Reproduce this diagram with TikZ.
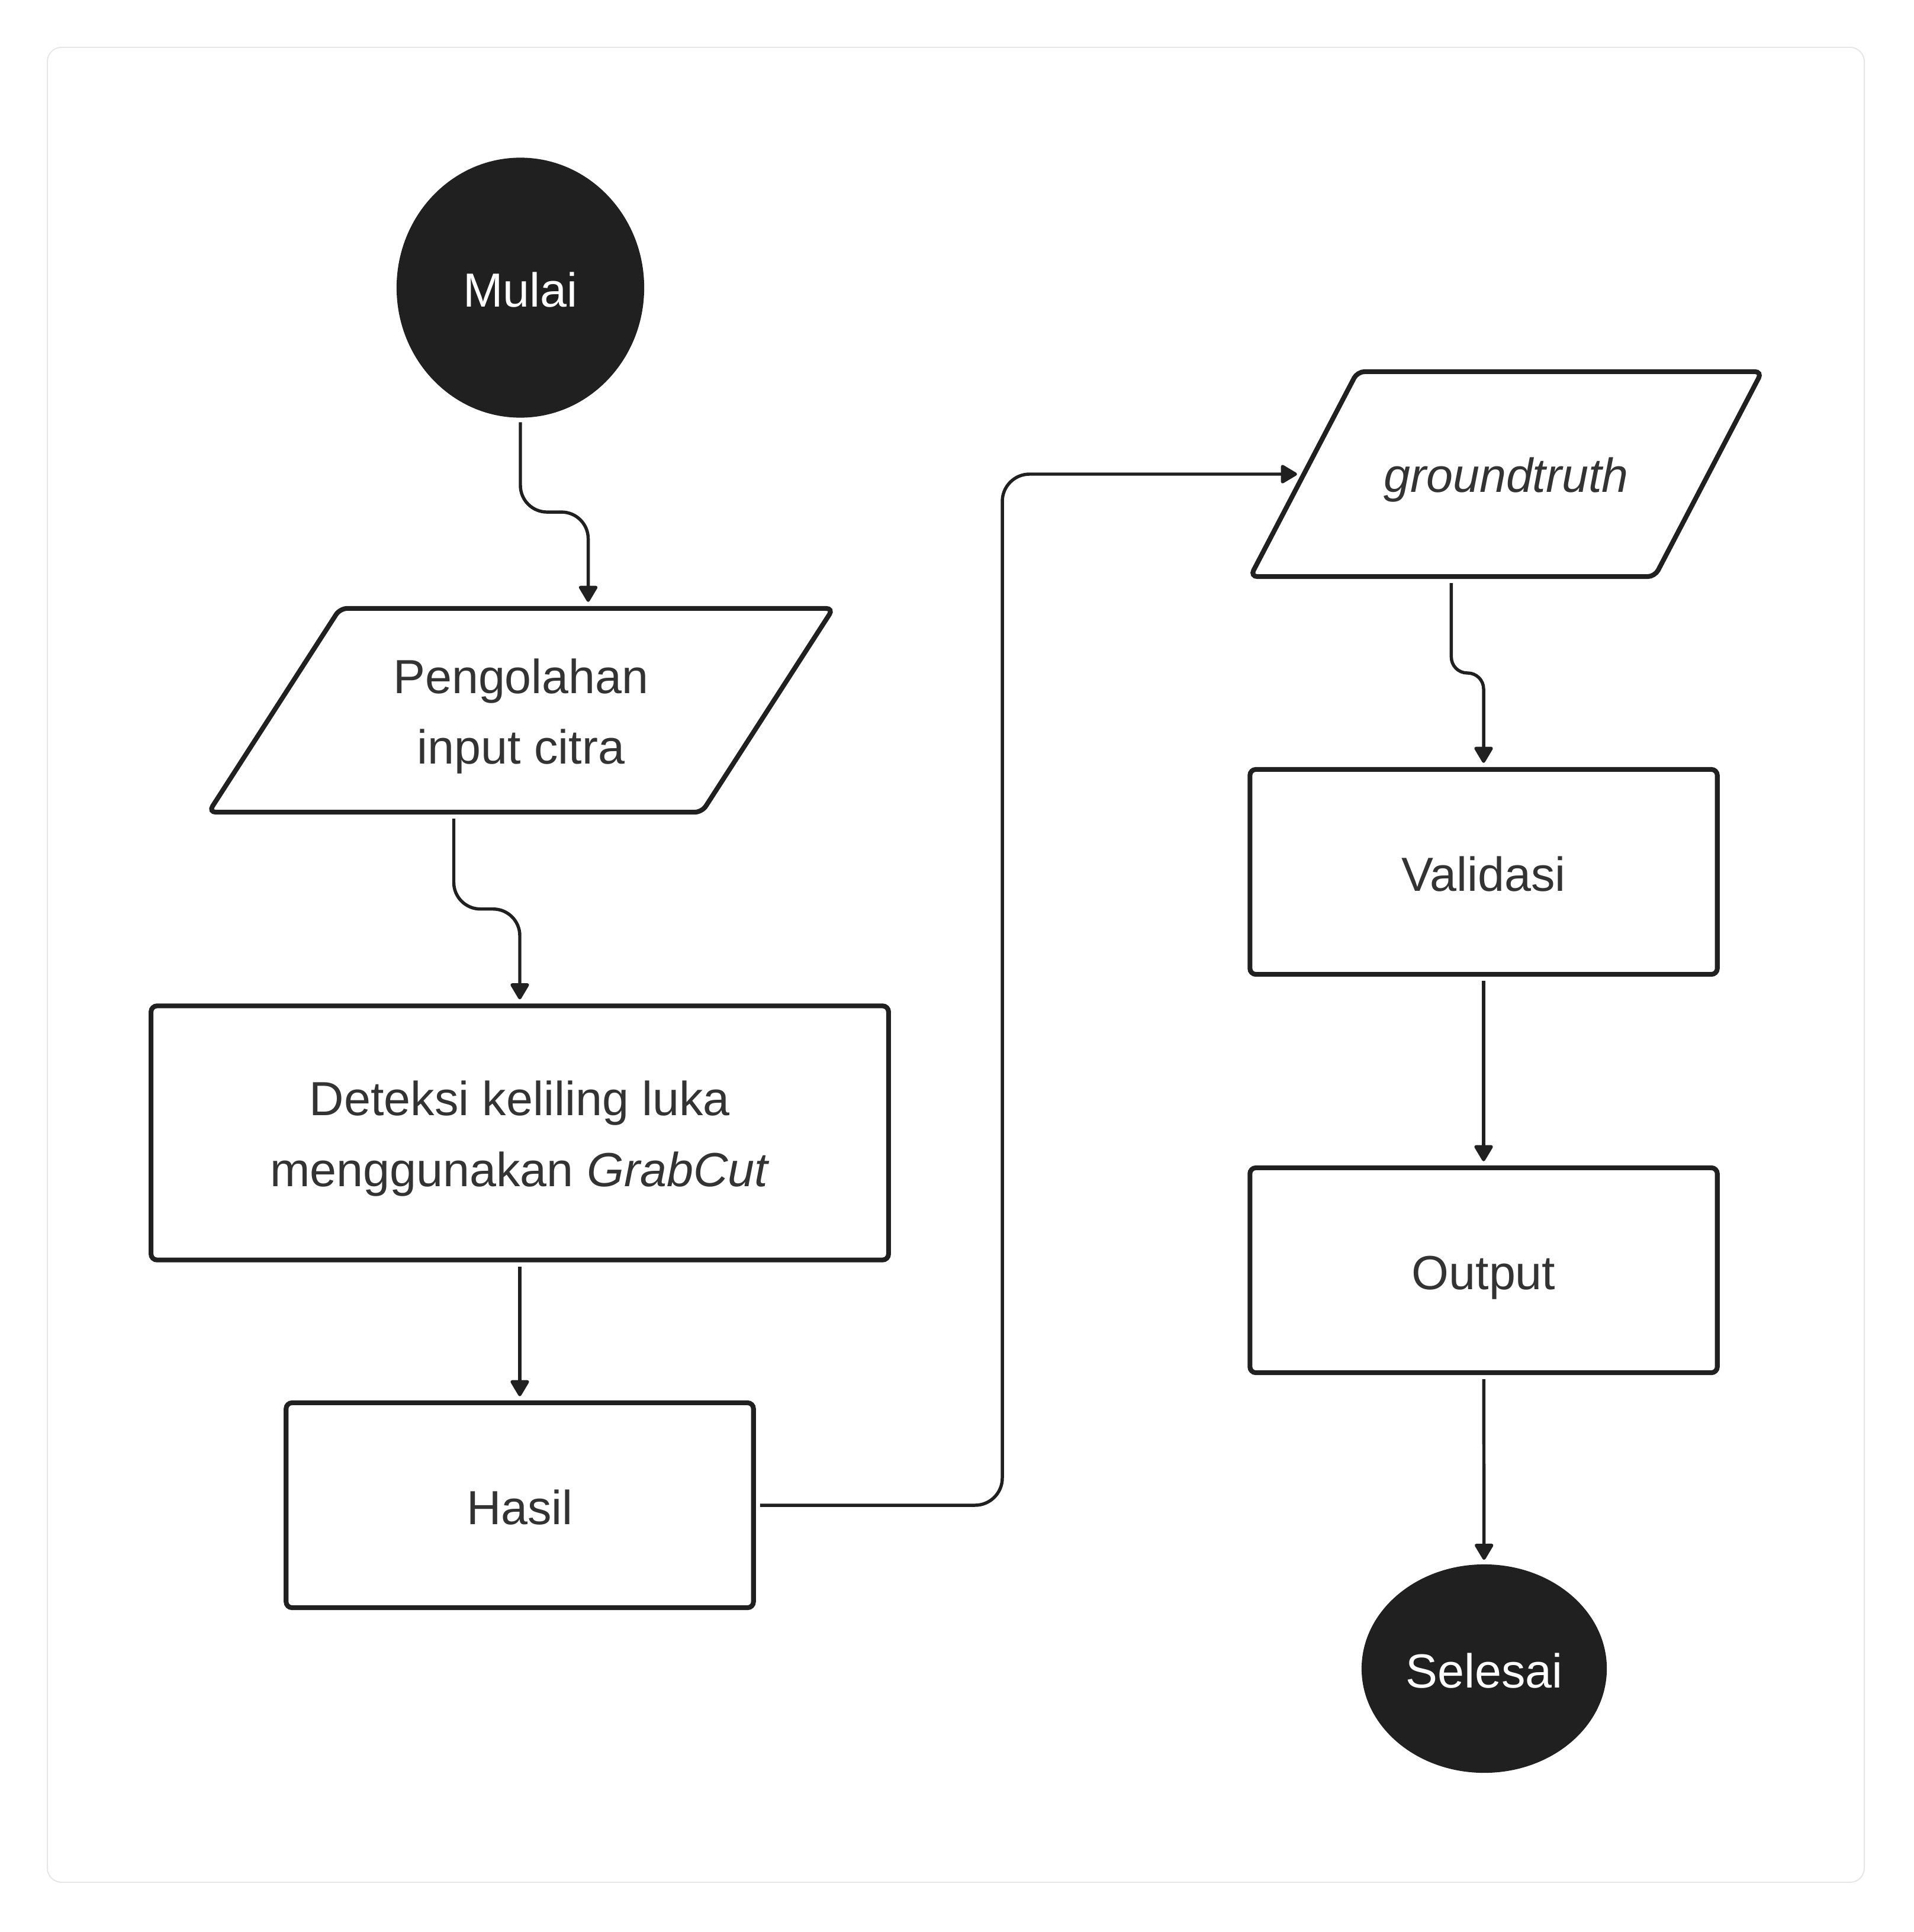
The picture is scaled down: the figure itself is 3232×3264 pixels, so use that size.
\documentclass[tikz,border=0pt]{standalone}
\usepackage{fontspec}
\setmainfont{Liberation Sans}
\usetikzlibrary{shapes.geometric,arrows.meta,calc}

\definecolor{ink}{HTML}{202020}
\definecolor{teks}{HTML}{333333}
\definecolor{bingkai}{HTML}{E6E6E6}

\tikzset{
    huruf/.style={font=\fontsize{23}{34}\selectfont},
    satubaris/.style={text height=0.66cm, text depth=0.02cm},
    proses/.style={draw=ink, line width=2.3pt, rounded corners=0.1cm, minimum width=7.89cm, minimum height=3.46cm, text=teks, align=center, huruf},
    terminal/.style={ellipse, fill=ink, text=white, huruf, satubaris},
    data/.style={trapezium, draw=ink, line width=2.3pt, rounded corners=0.12cm},
    isi/.style={label={[huruf, text=teks, align=center, yshift=-0.1cm]center:{#1}}},
    alur/.style={draw=ink, line width=1.55pt, -{Triangle[width=0.34cm,length=0.3cm,round]}, shorten <=0.07cm, shorten >=0.07cm}
}

\begin{document}
\begin{tikzpicture}[x=0.01cm, y=-0.01cm]
    		\useasboundingbox (0,0) rectangle (3232,3264);
    		\draw[bingkai, line width=0.02cm, rounded corners=0.24cm] (80,80) rectangle (3149,3180);

    		% kolom kiri
    		\node[terminal, minimum width=4.18cm, minimum height=4.39cm] (mulai) at (879,486) {Mulai};
    		\node[data, trapezium left angle=57.2, trapezium right angle=122.8, inner xsep=3.055cm, inner ysep=1.72cm, isi={Pengolahan\\input citra}] (olah) at (880,1200) {};
    		\node[proses, minimum width=12.45cm, minimum height=4.29cm] (deteksi) at (878,1914) {\rule{0pt}{0.78cm}Deteksi keliling luka\\menggunakan \textit{GrabCut}};
    		\node[proses, satubaris] (hasil) at (878,2543) {Hasil};

    		% kolom kanan
    		\node[data, trapezium left angle=62.4, trapezium right angle=117.6, inner xsep=2.51cm, inner ysep=1.73cm, isi={\textit{groundtruth}}] (gt) at (2544,801) {};
    		\node[proses, satubaris] (validasi) at (2506,1473) {Validasi};
    		\node[proses, satubaris] (output) at (2506,2146) {Output};
    		\node[terminal, minimum width=4.14cm, minimum height=3.52cm] (selesai) at (2507,2819) {Selesai};

    		% panah
    		\coordinate (s1) at ($(mulai.south)!0.5!(olah.top side)$);
    		\coordinate (s2) at ($(olah.bottom side)!0.5!(deteksi.north)$);
    		\coordinate (s3) at ($(gt.bottom side)!0.5!(validasi.north)$);
    		\coordinate (belok) at (1693,2543);
    		\draw[alur, rounded corners=0.45cm] (mulai.south) -- (mulai.south |- s1) -- (olah.top side |- s1) -- (olah.top side);
    		\draw[alur, rounded corners=0.45cm] (olah.bottom side) -- (olah.bottom side |- s2) -- (deteksi.north |- s2) -- (deteksi.north);
    		\draw[alur] (deteksi) -- (hasil);
    		\draw[alur, rounded corners=0.46cm] (hasil.east) -- (belok) |- (gt.left side);
    		\draw[alur, rounded corners=0.27cm] (gt.bottom side) -- (gt.bottom side |- s3) -- (validasi.north |- s3) -- (validasi.north);
    		\draw[alur] (validasi) -- (output);
    		\draw[alur] (output) -- (selesai);
\end{tikzpicture}
\end{document}
